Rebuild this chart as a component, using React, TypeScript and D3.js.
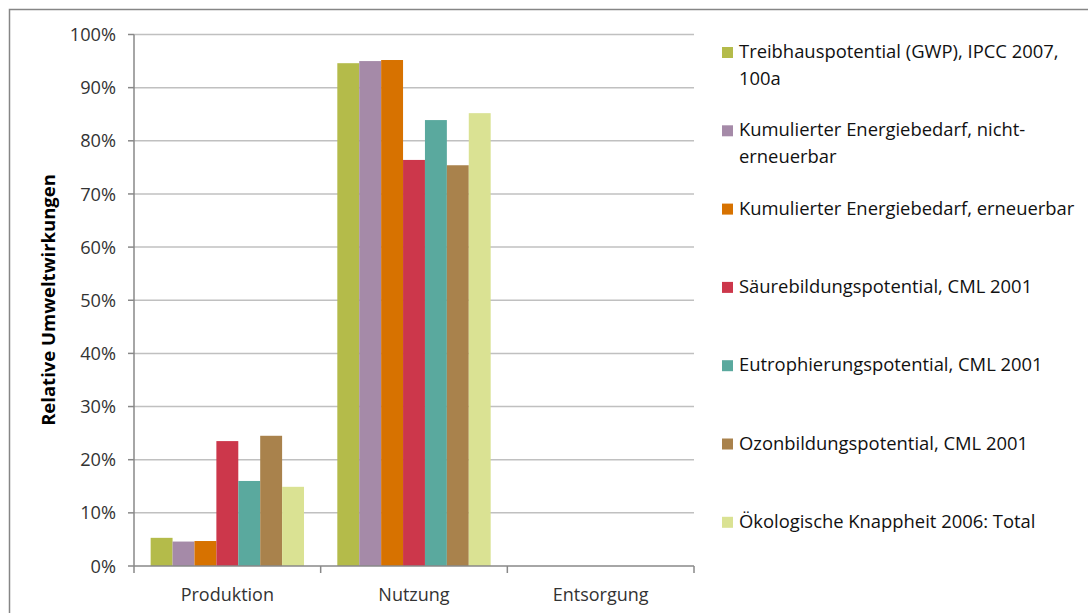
import React from "react";
import * as d3 from "d3";

// categories on the x axis
const categories = ["Produktion", "Nutzung", "Entsorgung"];

// one series per impact category (values in %)
const seriesNames = [
  ["Treibhauspotential (GWP), IPCC 2007,", "100a"],
  ["Kumulierter Energiebedarf, nicht-", "erneuerbar"],
  ["Kumulierter Energiebedarf, erneuerbar"],
  ["Säurebildungspotential, CML 2001"],
  ["Eutrophierungspotential, CML 2001"],
  ["Ozonbildungspotential, CML 2001"],
  ["Ökologische Knappheit 2006: Total"],
];
const gwp = [5.3, 94.6, 0];
const keaNicht = [4.6, 95.0, 0];
const keaErn = [4.7, 95.2, 0];
const saeure = [23.5, 76.4, 0];
const eutro = [16.0, 83.9, 0];
const ozon = [24.5, 75.4, 0];
const oeko = [14.9, 85.2, 0];
const seriesValues = [gwp, keaNicht, keaErn, saeure, eutro, ozon, oeko];

const colors = ["#b4bb4a", "#a58aa8", "#d77200", "#cc374b", "#5aa99e", "#a9824c", "#dae293"];

const yTicks = [0, 10, 20, 30, 40, 50, 60, 70, 80, 90, 100];

const FONT = "'Open Sans', 'Noto Sans', sans-serif";

export default function App() {
  const left = 134;
  const right = 694;
  const top = 34.5;
  const bottom = 566;

  const x0 = d3.scaleBand<string>().domain(categories).range([left, right]).padding(0);
  const x1 = d3
    .scaleBand<number>()
    .domain(d3.range(seriesValues.length))
    .range([0, x0.bandwidth()])
    .paddingInner(0)
    .paddingOuter(0.76);
  const y = d3.scaleLinear().domain([0, 100]).range([bottom, top]);

  const legendTop = 58;
  const legendStep = 78.3;

  return (
    <svg
      width={1088}
      height={613}
      style={{ position: "absolute", left: 0, top: 0, background: "#fff" }}
      fontFamily={FONT}
    >
      {/* outer frame */}
      <rect x={9.5} y={9.5} width={1100} height={700} fill="#fff" stroke="#868686" strokeWidth={1.5} />

      {/* gridlines */}
      {yTicks.slice(1).map((t) => (
        <line key={"g" + t} x1={left} x2={right} y1={y(t)} y2={y(t)} stroke="#c0c0c0" strokeWidth={1.5} />
      ))}

      {/* bars */}
      {categories.map((c, ci) =>
        seriesValues.map((vals, si) => {
          const v = vals[ci];
          if (v <= 0) return null;
          return (
            <rect
              key={c + si}
              x={(x0(c) as number) + (x1(si) as number)}
              y={y(v)}
              width={x1.bandwidth()}
              height={y(0) - y(v)}
              fill={colors[si]}
            />
          );
        })
      )}

      {/* y axis */}
      <line x1={left} x2={left} y1={top} y2={bottom} stroke="#888" strokeWidth={1.5} />
      {yTicks.map((t) => (
        <g key={"t" + t}>
          <line x1={left - 6} x2={left} y1={y(t)} y2={y(t)} stroke="#888" strokeWidth={1.5} />
          <text x={116} y={y(t)} dy="0.36em" textAnchor="end" fontSize={18.2} fill="#333">
            {t}%
          </text>
        </g>
      ))}

      {/* x axis */}
      <line x1={left} x2={right} y1={bottom} y2={bottom} stroke="#888" strokeWidth={1.5} />
      {[...categories.map((c) => x0(c) as number), right].map((xv, i) => (
        <line key={"xt" + i} x1={xv} x2={xv} y1={bottom} y2={bottom + 7} stroke="#888" strokeWidth={1.5} />
      ))}
      {categories.map((c) => (
        <text
          key={"xl" + c}
          x={(x0(c) as number) + x0.bandwidth() / 2}
          y={601}
          textAnchor="middle"
          fontSize={18}
          fill="#333"
        >
          {c}
        </text>
      ))}

      {/* y axis title */}
      <text
        transform={`translate(55,300) rotate(-90)`}
        textAnchor="middle"
        fontSize={18.5}
        fontWeight="bold"
        fill="#000"
      >
        Relative Umweltwirkungen
      </text>

      {/* legend */}
      {seriesNames.map((lines, i) => {
        const by = legendTop + i * legendStep;
        return (
          <g key={"lg" + i}>
            <rect x={722} y={by - 11} width={11} height={11} fill={colors[i]} />
            {lines.map((ln, li) => (
              <text key={li} x={739} y={by + li * 26.5} fontSize={18.4} fill="#111">
                {ln}
              </text>
            ))}
          </g>
        );
      })}
    </svg>
  );
}
